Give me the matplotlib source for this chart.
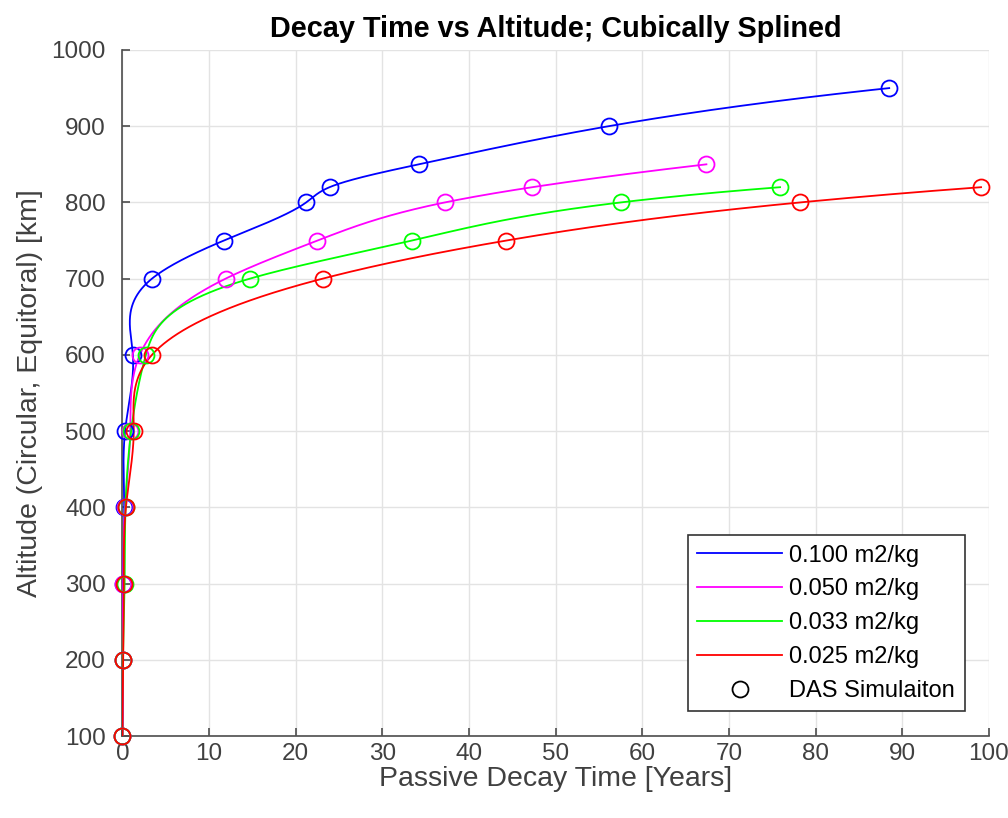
import numpy as np
import matplotlib.pyplot as plt
from matplotlib.lines import Line2D

plt.rcParams['font.family'] = ['Liberation Sans', 'DejaVu Sans']

# altitudes [km] and decay times [years]
alt_100 = [100, 200, 300, 400, 500, 600, 700, 750, 800, 820, 850, 900, 950]
yrs_100 = [0.0, 0.02, 0.05, 0.2, 0.3, 1.2, 3.4, 11.7, 21.2, 23.9, 34.2, 56.1, 88.5]

alt_050 = [100, 200, 300, 400, 500, 600, 700, 750, 800, 820, 850]
yrs_050 = [0.0, 0.03, 0.08, 0.3, 0.9, 2.0, 11.9, 22.5, 37.2, 47.3, 67.4]

alt_033 = [100, 200, 300, 400, 500, 600, 700, 750, 800, 820]
yrs_033 = [0.0, 0.05, 0.25, 0.35, 1.0, 2.7, 14.7, 33.4, 57.5, 75.9]

alt_025 = [100, 200, 300, 400, 500, 600, 700, 750, 800, 820]
yrs_025 = [0.0, 0.08, 0.15, 0.4, 1.3, 3.4, 23.1, 44.3, 78.2, 99.1]

labels = ['0.100 m2/kg', '0.050 m2/kg', '0.033 m2/kg', '0.025 m2/kg']
colors = ['#0000ff', '#ff00ff', '#00ff00', '#ff0000']


def spline_notaknot(xk, yk, xq):
    """cubic spline (not-a-knot), like matlab's spline()"""
    xk = np.asarray(xk, float)
    yk = np.asarray(yk, float)
    n = len(xk) - 1
    h = np.diff(xk)
    A = np.zeros((4 * n, 4 * n))
    b = np.zeros(4 * n)
    r = 0
    for i in range(n):
        c = 4 * i
        A[r, c] = 1
        b[r] = yk[i]
        r += 1
        A[r, c:c + 4] = [1, h[i], h[i] ** 2, h[i] ** 3]
        b[r] = yk[i + 1]
        r += 1
    for i in range(n - 1):
        c = 4 * i
        A[r, c + 1:c + 4] = [1, 2 * h[i], 3 * h[i] ** 2]
        A[r, c + 5] = -1
        r += 1
        A[r, c + 2:c + 4] = [2, 6 * h[i]]
        A[r, c + 6] = -2
        r += 1
    A[r, 3] = 1
    A[r, 7] = -1
    r += 1
    A[r, 4 * (n - 2) + 3] = 1
    A[r, 4 * (n - 1) + 3] = -1
    coef = np.linalg.solve(A, b).reshape(n, 4)
    idx = np.clip(np.searchsorted(xk, xq, side='right') - 1, 0, n - 1)
    t = xq - xk[idx]
    cc = coef[idx]
    return cc[:, 0] + cc[:, 1] * t + cc[:, 2] * t ** 2 + cc[:, 3] * t ** 3


fig = plt.figure(figsize=(10.08, 8.18), dpi=100)
ax = fig.add_axes([0.1215, 0.1002, 0.8595, 0.8387])

series = [(alt_100, yrs_100), (alt_050, yrs_050),
          (alt_033, yrs_033), (alt_025, yrs_025)]
for (alt, yrs), col in zip(series, colors):
    aa = np.linspace(alt[0], alt[-1], 2000)
    ax.plot(spline_notaknot(alt, yrs, aa), aa, color=col, lw=1.3, zorder=3)
    ax.plot(yrs, alt, 'o', mfc='none', mec=col, ms=11.5, mew=1.3, zorder=4,
            clip_on=False)

ax.set_xlim(0, 100)
ax.set_ylim(100, 1000)
ax.set_xticks(np.arange(0, 101, 10))
ax.set_yticks(np.arange(100, 1001, 100))
ax.grid(True, color='#e3e3e3', lw=1.0)
ax.set_axisbelow(True)
for s in ['top', 'right']:
    ax.spines[s].set_visible(False)
for s in ['left', 'bottom']:
    ax.spines[s].set_color('#4d4d4d')
    ax.spines[s].set_linewidth(1.2)
ax.tick_params(direction='in', length=6, width=1.2, color='#4d4d4d',
               labelsize=17.5, labelcolor='#404040')
ax.tick_params(axis='x', pad=5)
ax.tick_params(axis='y', pad=12)

ax.set_title('Decay Time vs Altitude; Cubically Splined', fontsize=20.8,
             fontweight='bold', color='black', pad=9)
ax.set_xlabel('Passive Decay Time [Years]', fontsize=20.5, color='#404040',
              labelpad=1)
ax.set_ylabel('Altitude (Circular, Equitoral) [km]', fontsize=20.5,
              color='#404040', labelpad=6)

handles = [Line2D([], [], color=c, lw=1.3) for c in colors]
handles.append(Line2D([], [], ls='none', marker='o', mfc='none', mec='black',
                      ms=11.5, mew=1.3))
leg = ax.legend(handles, labels + ['DAS Simulaiton'], loc='lower right',
                bbox_to_anchor=(0.972, 0.036), fontsize=17, fancybox=False,
                framealpha=1, edgecolor='#333333', handlelength=3.6,
                handletextpad=0.3, borderpad=0.4, labelspacing=0.5,
                borderaxespad=0)
leg.get_frame().set_linewidth(1.2)

fig.savefig('out.png', dpi=100)
